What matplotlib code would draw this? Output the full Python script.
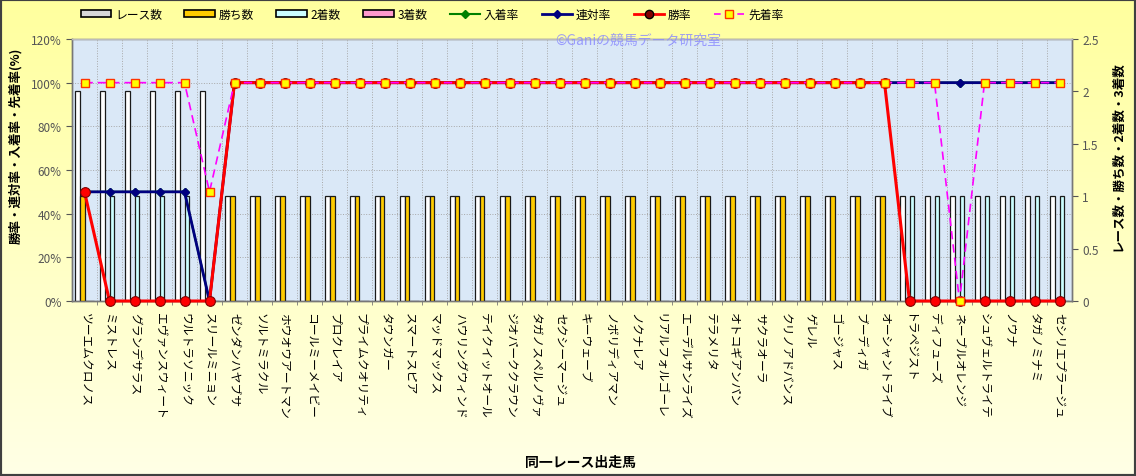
import numpy as np
import matplotlib
matplotlib.use('Agg')
import matplotlib.pyplot as plt
from matplotlib.patches import Patch, Rectangle
from matplotlib.lines import Line2D
from matplotlib.colors import LinearSegmentedColormap
from matplotlib.ticker import FuncFormatter, FixedLocator

plt.rcParams['font.family'] = ['Noto Sans CJK JP', 'DejaVu Sans']

horses = ['ツーエムクロノス', 'ミストレス', 'グランデサラス', 'エヴァンスウィート', 'ウルトラソニック',
          'スリールミニョン', 'ゼンダンハヤブサ', 'ソルトミラクル', 'ホウオウアートマン', 'コールミーメイビー',
          'プロクレイア', 'プライムクオリティ', 'タウンガー', 'スマートスピア', 'マッドマックス',
          'ハウリングウィンド', 'テイクイットオール', 'ジオパーククラウン', 'タガノスペルノヴァ', 'セクシーマージュ',
          'キーウェーブ', 'ノボリディアマン', 'ノクナレア', 'リアルフォルゴーレ', 'エーデルサンライズ',
          'テラメリタ', 'オトコギアンパン', 'サクラオーラ', 'クリノアドバンス', 'ゲレル',
          'ゴージャス', 'ブーディガ', 'オーシャントライブ', 'トラペジスト', 'ディフューズ',
          'ネーブルオレンジ', 'シュヴェルトライテ', 'ノウナ', 'タガノミナミ', 'セシリエプラージュ']

races   = [2, 2, 2, 2, 2, 2, 1, 1, 1, 1, 1, 1, 1, 1, 1, 1, 1, 1, 1, 1,
           1, 1, 1, 1, 1, 1, 1, 1, 1, 1, 1, 1, 1, 1, 1, 1, 1, 1, 1, 1]
wins    = [1, 0, 0, 0, 0, 0, 1, 1, 1, 1, 1, 1, 1, 1, 1, 1, 1, 1, 1, 1,
           1, 1, 1, 1, 1, 1, 1, 1, 1, 1, 1, 1, 1, 0, 0, 0, 0, 0, 0, 0]
seconds = [0, 1, 1, 1, 1, 0, 0, 0, 0, 0, 0, 0, 0, 0, 0, 0, 0, 0, 0, 0,
           0, 0, 0, 0, 0, 0, 0, 0, 0, 0, 0, 0, 0, 1, 1, 1, 1, 1, 1, 1]
thirds  = [0, 0, 0, 0, 0, 0, 0, 0, 0, 0, 0, 0, 0, 0, 0, 0, 0, 0, 0, 0,
           0, 0, 0, 0, 0, 0, 0, 0, 0, 0, 0, 0, 0, 0, 0, 0, 0, 0, 0, 0]

place_rate  = [50, 50, 50, 50, 50, 0, 100, 100, 100, 100, 100, 100, 100, 100, 100, 100, 100, 100, 100, 100,
               100, 100, 100, 100, 100, 100, 100, 100, 100, 100, 100, 100, 100, 100, 100, 100, 100, 100, 100, 100]
rentai_rate = [50, 50, 50, 50, 50, 0, 100, 100, 100, 100, 100, 100, 100, 100, 100, 100, 100, 100, 100, 100,
               100, 100, 100, 100, 100, 100, 100, 100, 100, 100, 100, 100, 100, 100, 100, 100, 100, 100, 100, 100]
win_rate    = [50, 0, 0, 0, 0, 0, 100, 100, 100, 100, 100, 100, 100, 100, 100, 100, 100, 100, 100, 100,
               100, 100, 100, 100, 100, 100, 100, 100, 100, 100, 100, 100, 100, 0, 0, 0, 0, 0, 0, 0]
senchaku    = [100, 100, 100, 100, 100, 50, 100, 100, 100, 100, 100, 100, 100, 100, 100, 100, 100, 100, 100, 100,
               100, 100, 100, 100, 100, 100, 100, 100, 100, 100, 100, 100, 100, 100, 100, 0, 100, 100, 100, 100]

left_ticks = [0, 20, 40, 60, 80, 100, 120]
right_ticks = [0, 0.5, 1, 1.5, 2, 2.5]

W, H = 1136, 477
fig = plt.figure(figsize=(W / 100, H / 100), dpi=100)

# background gradient
bg = fig.add_axes([0, 0, 1, 1], zorder=-10)
grad = np.linspace(0, 1, 256).reshape(-1, 1)
cmap = LinearSegmentedColormap.from_list('bg', ['#FFFF9E', '#FFFFE6'])
bg.imshow(grad, aspect='auto', cmap=cmap, extent=[0, 1, 0, 1], origin='upper')
bg.axis('off')

L, R, T, B = 72, 1072, 40, 302
ax = fig.add_axes([L / W, 1 - B / H, (R - L) / W, (B - T) / H])
ax2 = ax.twinx()
ax.set_zorder(3)
ax2.set_zorder(2)
ax.patch.set_visible(False)
ax2.patch.set_visible(True)
ax2.patch.set_facecolor('#DAE8F7')

x = np.arange(len(horses))
bw = 0.19
bar_specs = [(races, '#FFFFFF'), (wins, '#FFCC00'), (seconds, '#CCFFFF'), (thirds, '#FF99CC')]
for k, (vals, col) in enumerate(bar_specs):
    ax2.bar(x + (k - 1.5) * bw, vals, bw, color=col, edgecolor='#1a1a1a', linewidth=0.9, zorder=3)

ax2.set_ylim(0, 2.5)
ax2.set_yticks(right_ticks)
ax2.yaxis.set_major_formatter(FuncFormatter(lambda v, p: f'{v:g}'))
ax2.set_yticks(np.linspace(0, 2.5, 7), minor=True)
ax2.grid(which='minor', axis='y', color='#a8a8a8', linestyle=':', linewidth=0.7, zorder=1)
ax2.tick_params(axis='y', which='minor', length=0)
ax2.tick_params(axis='y', which='major', labelsize=8.5, labelcolor='#555555', color='#555555', length=4)
ax2.set_ylabel('レース数・勝ち数・2着数・3着数', fontsize=9, fontweight='bold', rotation=90)
ax2.yaxis.set_label_coords(1.039, 0.557)

# lines
ax.plot(x, place_rate, color='#008000', marker='D', ms=4, lw=1.5, zorder=4, clip_on=False)
ax.plot(x, rentai_rate, color='#000080', marker='D', ms=4.5, lw=2, zorder=5, clip_on=False)
ax.plot(x, win_rate, color='#FF0000', marker='o', ms=7, mfc='#FF0000', mec='#800000', mew=0.8, lw=2.2,
        zorder=6, clip_on=False)
ax.plot(x, senchaku, color='#FF00FF', ls=(0, (5, 3)), marker='s', ms=6, mfc='#FFFF00', mec='#FF3300',
        mew=1.0, lw=1.2, zorder=7, clip_on=False)

ax.set_xlim(-0.5, len(horses) - 0.5)
ax.set_ylim(0, 120)
ax.set_yticks(left_ticks)
ax.yaxis.set_major_formatter(FuncFormatter(lambda v, p: f'{v:.0f}%'))
ax.tick_params(axis='y', labelsize=8.5, labelcolor='#555555', color='#555555', length=4)
ax.set_ylabel('勝率・連対率・入着率・先着率(%)', fontsize=9, fontweight='bold')
ax.yaxis.set_label_coords(-0.050, 0.595)

ax.set_xticks(x)
ax.set_xticklabels(horses, rotation=-90, fontsize=8.5, va='top', ha='center')
ax.tick_params(axis='x', which='major', length=0, pad=8)
ax.xaxis.set_minor_locator(FixedLocator(x[:-1] + 0.5))
ax.tick_params(axis='x', which='minor', length=3, color='#777777')
ax.grid(which='minor', axis='x', color='#a8a8a8', linestyle=':', linewidth=0.7)

for a in (ax, ax2):
    for s in a.spines.values():
        s.set_color('#777777')
        s.set_linewidth(1.0)
ax.spines['top'].set_color('#bbbbbb')

fig.text(580 / W, 1 - 463 / H, '同一レース出走馬', ha='center', va='center', fontsize=10, fontweight='bold')

fig.text(638 / W, 1 - 41 / H, '©Ganiの競馬データ研究室', ha='center', va='center', fontsize=10,
         color='#8888FF', alpha=0.8, zorder=20)

handles = [
    Patch(facecolor='#D8D8D8', edgecolor='black', linewidth=1.2),
    Patch(facecolor='#FFCC00', edgecolor='black', linewidth=1.2),
    Patch(facecolor='#CCFFFF', edgecolor='black', linewidth=1.2),
    Patch(facecolor='#FF99CC', edgecolor='black', linewidth=1.2),
    Line2D([], [], color='#008000', marker='D', ms=4, lw=1.5),
    Line2D([], [], color='#000080', marker='D', ms=4.5, lw=2),
    Line2D([], [], color='#FF0000', marker='o', ms=6, mfc='#800000', mec='#000000', lw=2),
    Line2D([], [], color='#FF00FF', ls=(0, (4, 3)), marker='s', ms=6, mfc='#FFFF00', mec='#FF3300', lw=1.2),
]
labels = ['レース数', '勝ち数', '2着数', '3着数', '入着率', '連対率', '勝率', '先着率']
fig.legend(handles, labels, loc='center', bbox_to_anchor=(432 / W, 1 - 15 / H), ncol=8, frameon=False,
           fontsize=8.5, handlelength=2.6, handleheight=0.55, columnspacing=1.9, handletextpad=0.3)

fig.patches.append(Rectangle((0, 0), 1, 1, transform=fig.transFigure, fill=False,
                             edgecolor='#404040', linewidth=3, zorder=30))

fig.savefig('out.png', dpi=100)
